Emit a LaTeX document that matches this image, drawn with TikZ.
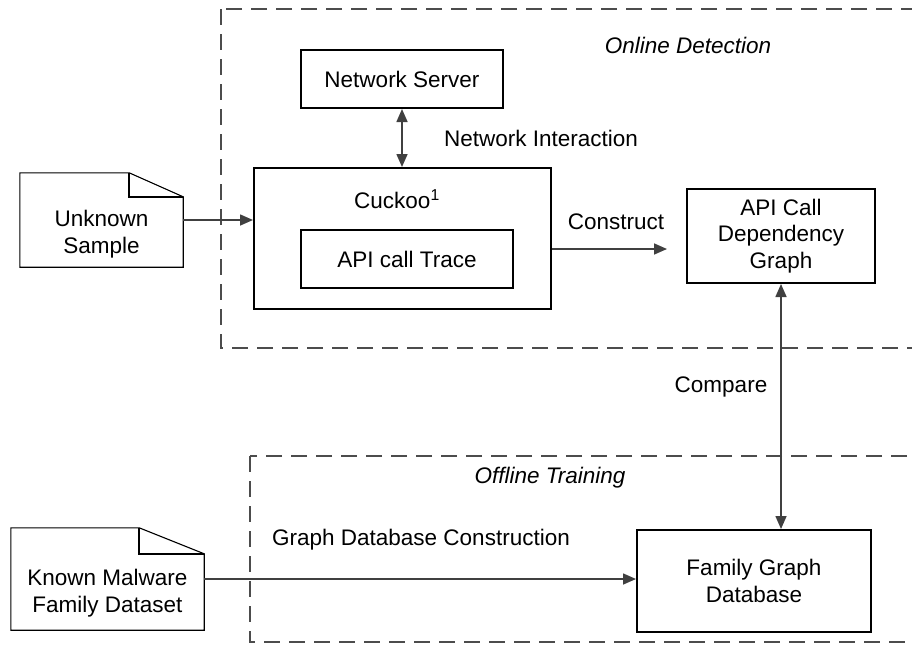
\documentclass[tikz,border=0pt]{standalone}
\usepackage{fontspec}
\setmainfont{Liberation Sans}
\usepackage{tikz}
\usetikzlibrary{arrows.meta,positioning,calc}

\begin{document}
\begin{tikzpicture}[x=1pt,y=-1pt,
	font=\fontsize{22.5}{26.5}\selectfont,
	box/.style={draw=black, line width=2pt, inner sep=0pt, align=center},
	doc/.style={inner sep=0pt},
	frame/.style={draw=black!70, line width=1.8pt, dash pattern=on 16pt off 9pt},
	arr/.style={draw=black!75, line width=1.6pt, -{Triangle[length=13pt,width=11pt]}},
	biarr/.style={draw=black!75, line width=1.6pt, {Triangle[length=13pt,width=11pt]}-{Triangle[length=13pt,width=11pt]}},
	lbl/.style={inner sep=0pt, align=center}]
	\useasboundingbox (0,0) rectangle (912,648);
	% dashed frames
	\draw[frame] (221,9) rectangle (930,348);
	\draw[frame] (250,456) rectangle (930,642);
	\node[lbl] (online) at (688,45) {\itshape Online Detection};
	\node[lbl] (offline) at (550,478) {\itshape Offline Training};

	% boxes
	\node[box, minimum width=202pt, minimum height=58pt] (server) at (402,79) {Network Server};
	\node[box, minimum width=297pt, minimum height=141pt] (cuckoo) at (402.5,238.5) {};
	\node[lbl] (cuckoolabel) at (397,199) {Cuckoo\textsuperscript{1}};
	\node[box, minimum width=212pt, minimum height=58pt] (trace) at (407,259) {API call Trace};
	\node[box, minimum width=188pt, minimum height=94pt] (depgraph) at (781,236) {API Call\\Dependency\\Graph};
	\node[box, minimum width=234pt, minimum height=102pt] (familydb) at (754,581) {Family Graph\\Database};

	% documents
	\node[doc, minimum width=163pt, minimum height=94pt] (unknown) at (101.5,220) {};
	\node[lbl] (unknowntext) at (101.5,234) {Unknown\\Sample};
	\draw[line width=1.1pt] (unknown.south west) -- (unknown.north west) -- ([xshift=-54pt]unknown.north east) -- ([yshift=-24pt]unknown.north east) -- (unknown.south east) -- cycle;
	\draw[line width=1.8pt] ([xshift=-54pt]unknown.north east) |- ([yshift=-24pt]unknown.north east);
	\node[doc, minimum width=193pt, minimum height=102pt] (known) at (107.5,579) {};
	\node[lbl] (knowntext) at (107.5,593) {Known Malware\\Family Dataset};
	\draw[line width=1.1pt] (known.south west) -- (known.north west) -- ([xshift=-65pt]known.north east) -- ([yshift=-26pt]known.north east) -- (known.south east) -- cycle;
	\draw[line width=1.8pt] ([xshift=-65pt]known.north east) |- ([yshift=-26pt]known.north east);

	% connectors
	\draw[arr] (unknown.east) -- (unknown.east -| cuckoo.west);
	\draw[biarr] (server.south) -- (server.south |- cuckoo.north);
	\draw[arr, shorten >=19pt] ([yshift=-10.5pt]cuckoo.east) -- ([yshift=-10.5pt]cuckoo.east -| depgraph.west);
	\draw[biarr] (depgraph.south) -- (depgraph.south |- familydb.north);
	\draw[arr] (known.east) -- (known.east -| familydb.west);

	% connector labels
	\node[lbl] (interaction) at (541,138) {Network Interaction};
	\node[lbl] (construct) at (616,222) {Construct};
	\node[lbl] (compare) at (721,387) {Compare};
	\node[lbl] (dbconstruct) at (421,540) {Graph Database Construction};
\end{tikzpicture}
\end{document}
